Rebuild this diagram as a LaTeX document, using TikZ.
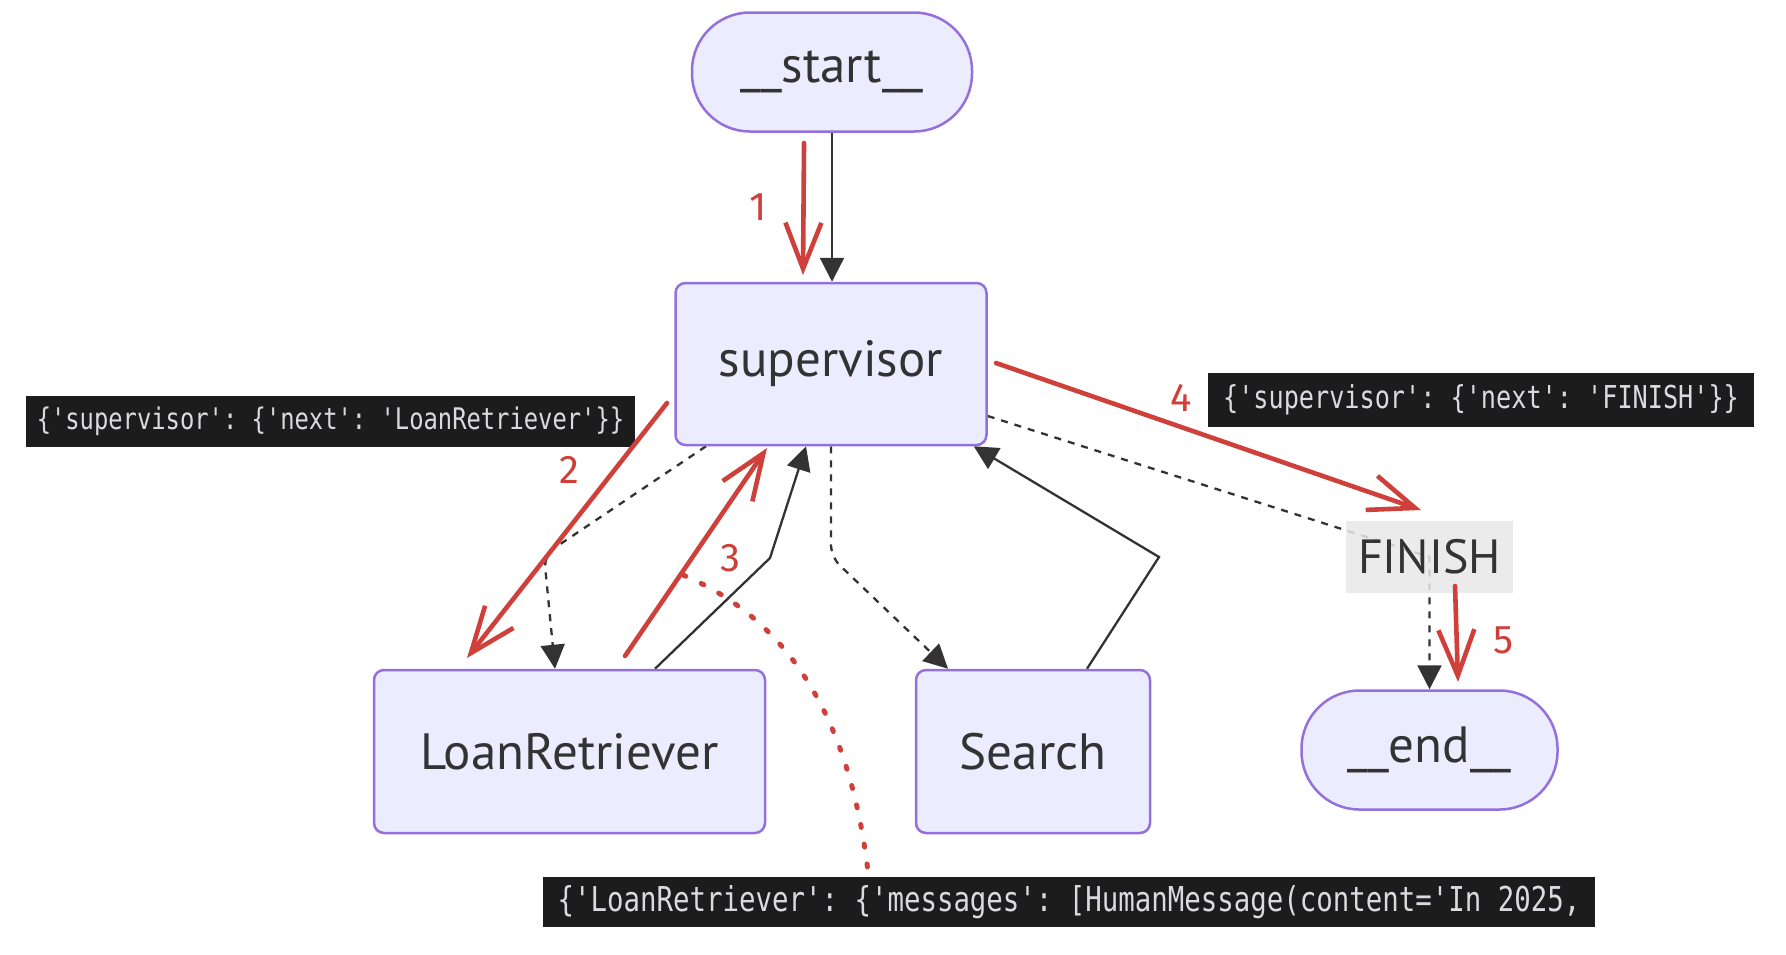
\documentclass[tikz,border=0pt]{standalone}
\usepackage{fontspec}
\setmainfont{PT Sans}
\setmonofont{DejaVu Sans Mono}
\newfontfamily\handfont{Fira Sans}
\usetikzlibrary{arrows.meta}
\definecolor{nodefill}{HTML}{ECECFF}
\definecolor{nodeline}{HTML}{9370DB}
\definecolor{edgecol}{HTML}{333333}
\definecolor{annot}{HTML}{D0403A}
\definecolor{codebg}{HTML}{1C1C1C}
\definecolor{codefg}{HTML}{DADAE0}
\definecolor{labelbg}{HTML}{E8E8E8}
\pgfdeclarelayer{bg}
\pgfsetlayers{bg,main}
\newcommand{\codetall}[1]{\scalebox{1}[1.25]{#1}}
\tikzset{
  graphnode/.style={draw=nodeline, fill=nodefill, line width=1.25pt, text=edgecol,
    font=\fontsize{25.5}{30}\selectfont, inner sep=0pt, align=center},
  boxnode/.style={graphnode, rounded corners=5pt},
  termnode/.style={graphnode, rounded corners=29pt},
  finlabel/.style={fill=labelbg, fill opacity=0.85, text opacity=1, text=edgecol,
    font=\fontsize{24}{28}\selectfont, inner sep=0pt},
  edgeline/.style={draw=edgecol, line width=1.15pt, -{Triangle[length=12pt,width=12pt]}},
  dotline/.style={edgeline, dash pattern=on 3.5pt off 3.5pt},
  codebox/.style={fill=codebg, text=codefg, inner sep=0pt},
  annotarrow/.style={draw=annot, line width=2.3pt, line cap=round,
    -{Straight Barb[length=23pt,width=18pt,line width=2.3pt]}},
  annotnum/.style={text=annot, font=\handfont\fontsize{20}{24}\selectfont, inner sep=0pt},
}
\begin{document}
\begin{tikzpicture}[x=0.5pt,y=-0.5pt]
\useasboundingbox (0,0) rectangle (1786,954);

% graph nodes
\node[termnode, minimum width=140pt, minimum height=59.5pt] (start) at (832,72) {\_\_start\_\_};
\node[boxnode, minimum width=155.5pt, minimum height=81pt] (sup) at (831,364) {supervisor};
\node[boxnode, minimum width=195.5pt, minimum height=81.5pt] (loan) at (569.5,751.5) {LoanRetriever};
\node[boxnode, minimum width=117pt, minimum height=81.5pt] (search) at (1033,751.5) {Search};
\node[termnode, minimum width=128pt, minimum height=59.5pt] (end) at (1429.5,750) {\_\_end\_\_};
\node[finlabel, minimum width=83.5pt, minimum height=36pt] (fin) at (1429.5,557) {FINISH};

% code boxes
\node[codebox, minimum width=304.5pt, minimum height=25.5pt, font=\ttfamily\fontsize{11.9}{13}\selectfont] (code2) at (330.5,421) {\codetall{\{'supervisor': \{'next': 'LoanRetriever'\}\}}};
\node[codebox, minimum width=273pt, minimum height=27pt, font=\ttfamily\fontsize{12.6}{14}\selectfont] (code4) at (1481,399.5) {\codetall{\{'supervisor': \{'next': 'FINISH'\}\}}};
\node[codebox, minimum width=526pt, minimum height=25pt, font=\ttfamily\fontsize{13.7}{15}\selectfont] (code3) at (1069,902) {\codetall{\{'LoanRetriever': \{'messages': [HumanMessage(content='In 2025,}};

% black edges
\begin{pgfonlayer}{bg}
\draw[edgeline] (start.south) -- (start.south |- sup.north);
\draw[dotline, rounded corners=6pt] ([xshift=-62.5pt]sup.south) -- (544,555) -- ([xshift=-7.25pt]loan.north);
\draw[edgeline] ([xshift=42.75pt]loan.north) -- (770,558) -- ([xshift=-12.5pt]sup.south);
\draw[dotline, rounded corners=6pt] (sup.south) -- (831,557) -- ([xshift=-42.5pt]search.north);
\draw[edgeline] ([xshift=27pt]search.north) -- (1159,557) -- ([xshift=-7pt]sup.south east);
\draw[dotline] ([yshift=-26pt]sup.east) -- (fin.center) -- (end.north);
\end{pgfonlayer}

% red annotations
\coordinate (r1a) at (804,143); \coordinate (r1b) at (803,275);
\coordinate (r2a) at (667,403); \coordinate (r2b) at (467,658);
\coordinate (r3a) at (625,656); \coordinate (r3b) at (767,448);
\coordinate (r4a) at (996,363); \coordinate (r4b) at (1421,510);
\coordinate (r5a) at (1455,586); \coordinate (r5b) at (1458,682);
\coordinate (rdA) at (683,575); \coordinate (rdB) at (868,872);
\draw[annotarrow] (r1a) -- (r1b);
\draw[annotarrow] (r2a) -- (r2b);
\draw[annotarrow] (r3a) -- (r3b);
\draw[annotarrow] (r4a) -- (r4b);
\draw[annotarrow] (r5a) -- (r5b);
\draw[annot, line width=2.5pt, line cap=round, dash pattern=on 1.5pt off 8.5pt]
  (rdA) .. controls (790,620) and (850,720) .. (rdB);
\node[annotnum] (n1) at (758,207) {1};
\node[annotnum] (n2) at (569,470) {2};
\node[annotnum] (n3) at (730,558) {3};
\node[annotnum] (n4) at (1181,398) {4};
\node[annotnum] (n5) at (1503,640) {5};
\end{tikzpicture}
\end{document}
